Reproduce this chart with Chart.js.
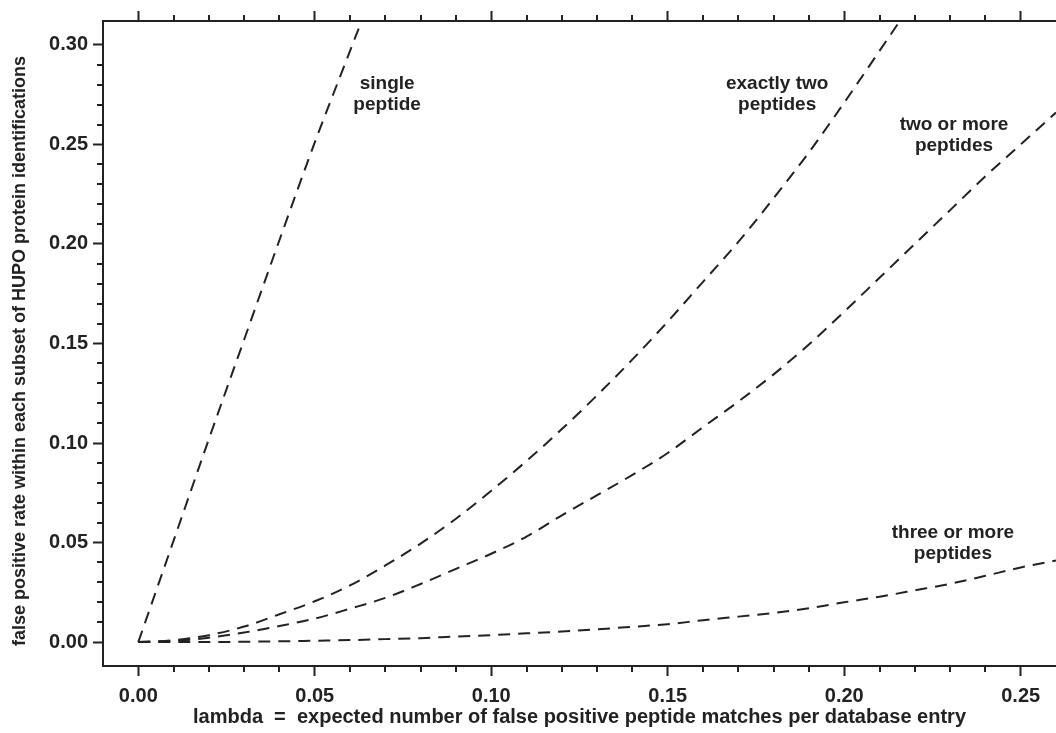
<!DOCTYPE html>
<html>
<head>
<meta charset="utf-8">
<script src="https://cdn.jsdelivr.net/npm/chart.js@4.4.1/dist/chart.umd.min.js"></script>
<style>
html,body{margin:0;padding:0;background:#fff;}
#wrap{width:1056px;height:733px;position:relative;}
</style>
</head>
<body>
<div id="wrap"><canvas id="c"></canvas></div>
<script>
// ---- data ----
const lambda = [0.00,0.01,0.02,0.03,0.04,0.05,0.06,0.07,0.08,0.09,0.10,0.11,0.12,0.13,0.14,0.15,0.16,0.17,0.18,0.19,0.20,0.21,0.22,0.23,0.24,0.25,0.26];
const singlePeptide = [0,0.051,0.102,0.152,0.202,0.251,0.297,0.343];
const exactlyTwo = [0,0.001,0.0035,0.0078,0.014,0.0205,0.0285,0.0385,0.0495,0.062,0.076,0.091,0.107,0.124,0.142,0.161,0.181,0.201,0.223,0.246,0.271,0.297,0.323];
const twoOrMore = [0,0.0006,0.0022,0.0048,0.0081,0.0118,0.0168,0.0222,0.0292,0.0368,0.0444,0.053,0.0637,0.0738,0.084,0.095,0.108,0.1208,0.1345,0.1495,0.166,0.183,0.200,0.217,0.234,0.250,0.266];
const threeOrMore = [0,0,0,0.0002,0.0004,0.0007,0.001,0.0015,0.002,0.0028,0.0035,0.0044,0.0053,0.0064,0.0077,0.009,0.011,0.0128,0.0146,0.017,0.020,0.0228,0.026,0.0293,0.0333,0.0375,0.041];
const seriesNames = ['single peptide','exactly two peptides','two or more peptides','three or more peptides'];
const xTickLabels = ['0.00','0.05','0.10','0.15','0.20','0.25'];
const yTickLabels = ['0.00','0.05','0.10','0.15','0.20','0.25','0.30'];
const labelLines = [['single','peptide'],['exactly two','peptides'],['two or more','peptides'],['three or more','peptides']];
const labelX = [0.0705,0.181,0.2311,0.2308];
const labelY = [0.2753,0.2753,0.2547,0.0498];
const xTitle = 'lambda  =  expected number of false positive peptide matches per database entry';
const yTitle = 'false positive rate within each subset of HUPO protein identifications\u00a0\u00a0\u00a0';

// ---- styling ----
const INK = '#222';
const FONT = "'Liberation Sans', Arial, sans-serif";
Chart.defaults.font.family = FONT;
Chart.defaults.color = INK;

function pts(vals){ return vals.map((v,i)=>({x: lambda[i], y: v})); }
function findLabel(list, v){ return list.find(t => Math.abs(parseFloat(t) - v) < 1e-9); }
function minorTicks(maxLabel){
  const out = [];
  const n = Math.round(parseFloat(maxLabel) * 100);
  for (let i = 0; i <= n; i++) out.push({value: i / 100});
  return out;
}

const dashStyle = {borderColor: INK, borderWidth: 2, borderDash: [12, 8], pointRadius: 0, fill: false, cubicInterpolationMode: 'monotone', borderCapStyle: 'butt'};
const datasets = [singlePeptide, exactlyTwo, twoOrMore, threeOrMore].map((vals, i) => Object.assign({label: seriesNames[i], data: pts(vals)}, dashStyle));

function axisGrid(labels){
  return {
    display: true,
    drawOnChartArea: false,
    drawTicks: true,
    tickLength: 10,
    tickWidth: 2,
    tickColor: (c) => (c.tick && findLabel(labels, c.tick.value)) ? INK : 'rgba(0,0,0,0)'
  };
}

const minorTickPlugin = {
  id: 'minorTicks',
  afterDraw(chart){
    const ctx = chart.ctx;
    ctx.save();
    ctx.strokeStyle = INK;
    ctx.lineWidth = 2;
    const len = 6;
    ['x','x2','y'].forEach(id => {
      const s = chart.scales[id];
      const labels = id === 'y' ? yTickLabels : xTickLabels;
      s.ticks.forEach(t => {
        if (findLabel(labels, t.value)) return;
        const p = Math.round(s.getPixelForValue(t.value));
        ctx.beginPath();
        if (id === 'y') { ctx.moveTo(s.right, p); ctx.lineTo(s.right - len, p); }
        else if (id === 'x') { ctx.moveTo(p, s.top); ctx.lineTo(p, s.top + len); }
        else { ctx.moveTo(p, s.bottom); ctx.lineTo(p, s.bottom - len); }
        ctx.stroke();
      });
    });
    ctx.restore();
  }
};

const curveLabelPlugin = {
  id: 'curveLabels',
  afterDatasetsDraw(chart){
    const ctx = chart.ctx;
    const xs = chart.scales.x, ys = chart.scales.y;
    ctx.save();
    ctx.fillStyle = INK;
    ctx.font = 'bold 19px ' + FONT;
    ctx.textAlign = 'center';
    ctx.textBaseline = 'middle';
    labelLines.forEach((lines, i) => {
      const cx = xs.getPixelForValue(labelX[i]);
      const cy = ys.getPixelForValue(labelY[i]);
      const lh = 21;
      lines.forEach((ln, j) => {
        ctx.fillText(ln, cx, cy + (j - (lines.length - 1) / 2) * lh);
      });
    });
    ctx.restore();
  }
};

new Chart(document.getElementById('c'), {
  type: 'line',
  data: {datasets},
  options: {
    responsive: true,
    maintainAspectRatio: false,
    animation: false,
    devicePixelRatio: 1,
    layout: {padding: 0},
    plugins: {legend: {display: false}, tooltip: {enabled: false}},
    scales: {
      x: {
        type: 'linear', position: 'bottom', min: -0.01, max: 0.26,
        afterBuildTicks: (s) => { s.ticks = minorTicks(xTickLabels[xTickLabels.length - 1]); },
        afterFit: (s) => { s.height = 67; },
        ticks: {autoSkip: false, maxRotation: 0, minRotation: 0, padding: 8,
          font: {size: 20, weight: 'bold'}, color: INK,
          callback: (v) => findLabel(xTickLabels, v) || ''},
        grid: axisGrid(xTickLabels),
        border: {display: true, color: INK, width: 2},
        title: {display: true, text: xTitle, font: {size: 20, weight: 'bold'}, color: INK, padding: {top: 0, bottom: 4}}
      },
      x2: {
        type: 'linear', position: 'top', min: -0.01, max: 0.26,
        afterBuildTicks: (s) => { s.ticks = minorTicks(xTickLabels[xTickLabels.length - 1]); },
        afterFit: (s) => { s.height = 21; },
        ticks: {display: false, autoSkip: false},
        grid: axisGrid(xTickLabels),
        border: {display: true, color: INK, width: 2}
      },
      y: {
        type: 'linear', position: 'left', min: -0.012, max: 0.312,
        afterBuildTicks: (s) => { s.ticks = minorTicks(yTickLabels[yTickLabels.length - 1]); },
        afterFit: (s) => { s.width = 103; },
        ticks: {autoSkip: false, padding: 5, font: {size: 20, weight: 'bold'}, color: INK,
          callback: (v) => findLabel(yTickLabels, v) || ''},
        grid: axisGrid(yTickLabels),
        border: {display: true, color: INK, width: 2},
        title: {display: true, text: yTitle, font: {size: 18, weight: 'bold'}, color: INK, padding: {top: 9, bottom: 0}}
      }
    }
  },
  plugins: [minorTickPlugin, curveLabelPlugin]
});
</script>
</body>
</html>
